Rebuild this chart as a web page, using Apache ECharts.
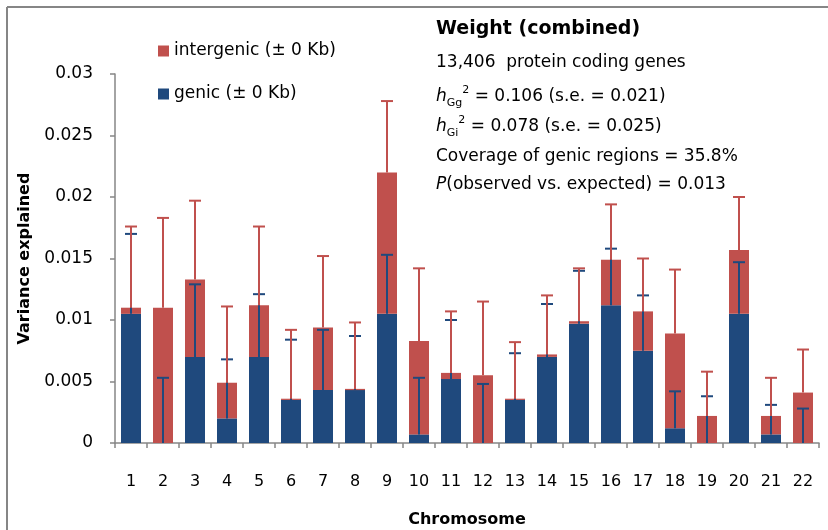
<!DOCTYPE html>
<html>
<head>
<meta charset="utf-8">
<script src="https://cdn.jsdelivr.net/npm/echarts@6/dist/echarts.min.js"></script>
<style>html,body{margin:0;padding:0;background:#fff}#c{width:828px;height:530px}</style>
</head>
<body>
<div id="c"></div>
<script>
const categories = ['1','2','3','4','5','6','7','8','9','10','11','12','13','14','15','16','17','18','19','20','21','22'];
const genic = [0.0105, 0, 0.0070, 0.0020, 0.0070, 0.0035, 0.0043, 0.0043, 0.0105, 0.0007, 0.0052, 0, 0.0035, 0.0070, 0.0097, 0.0112, 0.0075, 0.0012, 0, 0.0105, 0.0007, 0];
const combined = [0.0110, 0.0110, 0.0133, 0.0049, 0.0112, 0.0036, 0.0094, 0.0044, 0.0220, 0.0083, 0.0057, 0.0055, 0.0036, 0.0072, 0.0099, 0.0149, 0.0107, 0.0089, 0.0022, 0.0157, 0.0022, 0.0041];
const genicUpper = [0.0170, 0.0053, 0.0129, 0.0068, 0.0121, 0.0084, 0.0092, 0.0087, 0.0153, 0.0053, 0.0100, 0.0048, 0.0073, 0.0113, 0.0140, 0.0158, 0.0120, 0.0042, 0.0038, 0.0147, 0.0031, 0.0028];
const combinedUpper = [0.0176, 0.0183, 0.0197, 0.0111, 0.0176, 0.0092, 0.0152, 0.0098, 0.0278, 0.0142, 0.0107, 0.0115, 0.0082, 0.0120, 0.0142, 0.0194, 0.0150, 0.0141, 0.0058, 0.0200, 0.0053, 0.0076];
const yTicks = {min: 0, max: 0.03, interval: 0.005};

const BLUE = '#1F497D', RED = '#C0504D', GRAY = '#868686';
const FONT = '"DejaVu Sans"';

const intergenic = combined.map((v, i) => +(v - genic[i]).toFixed(5));
const genicErr = genic.map((v, i) => [i, v, genicUpper[i]]);
const interErr = combined.map((v, i) => [i, v, combinedUpper[i]]);

function errRender(color) {
  return function (params, api) {
    const b = api.coord([api.value(0), api.value(1)]);
    const t = api.coord([api.value(0), api.value(2)]);
    return {type: 'group', children: [
      {type: 'line', shape: {x1: b[0], y1: b[1], x2: t[0], y2: t[1]}, style: {stroke: color, lineWidth: 2}},
      {type: 'line', shape: {x1: t[0] - 6, y1: t[1], x2: t[0] + 6, y2: t[1]}, style: {stroke: color, lineWidth: 2}}
    ]};
  };
}

const chart = echarts.init(document.getElementById('c'), null, {renderer: 'canvas', width: 828, height: 530});
const txt = (text, y, extra) => ({type: 'text', left: 436, top: y, style: Object.assign({text: text, fill: '#000', font: '17px ' + FONT}, extra || {})});
const hRich = {
  n: {fontSize: 17, fontFamily: FONT, lineHeight: 24, verticalAlign: 'middle'},
  i: {fontSize: 17, fontFamily: FONT, fontStyle: 'italic', lineHeight: 24, verticalAlign: 'middle'},
  sub: {fontSize: 11, fontFamily: FONT, lineHeight: 12, verticalAlign: 'bottom'},
  sup: {fontSize: 11, fontFamily: FONT, lineHeight: 12, verticalAlign: 'top'}
};

chart.setOption({
  animation: false,
  backgroundColor: '#fff',
  grid: {left: 115, right: 9, top: 74, bottom: 87, containLabel: false, outerBoundsMode: 'none'},
  legend: {
    orient: 'vertical', left: 158, top: 41, padding: 0,
    itemWidth: 11, itemHeight: 11, itemGap: 23, icon: 'rect',
    data: ['intergenic (± 0 Kb)', 'genic (± 0 Kb)'],
    textStyle: {fontFamily: FONT, fontSize: 17, color: '#000', lineHeight: 20}
  },
  xAxis: {
    type: 'category', data: categories, boundaryGap: true,
    name: 'Chromosome', nameLocation: 'middle', nameGap: 69,
    nameTextStyle: {fontFamily: FONT, fontSize: 16, fontWeight: 'bold', color: '#000'},
    axisLine: {lineStyle: {color: GRAY, width: 1.5}},
    axisTick: {show: true, length: 5, lineStyle: {color: GRAY, width: 1.5}},
    axisLabel: {fontFamily: FONT, fontSize: 16, color: '#000', margin: 31}
  },
  yAxis: {
    type: 'value', min: yTicks.min, max: yTicks.max, interval: yTicks.interval,
    name: 'Variance explained', nameLocation: 'middle', nameGap: 82,
    nameTextStyle: {fontFamily: FONT, fontSize: 16, fontWeight: 'bold', color: '#000'},
    axisLine: {show: true, lineStyle: {color: GRAY, width: 1.5}},
    axisTick: {show: true, length: 5, lineStyle: {color: GRAY, width: 1.5}},
    splitLine: {show: false},
    axisLabel: {fontFamily: FONT, fontSize: 17, color: '#000', margin: 22}
  },
  graphic: [
    {type: 'line', shape: {x1: 7, y1: 7, x2: 828, y2: 7}, style: {stroke: GRAY, lineWidth: 2}},
    {type: 'line', shape: {x1: 7, y1: 7, x2: 7, y2: 530}, style: {stroke: GRAY, lineWidth: 2}},
    txt('Weight (combined)', 20, {font: 'bold 19px ' + FONT}),
    txt('13,406  protein coding genes', 54),
    {type: 'text', left: 436, top: 85, style: {text: '{i|h}{sub|Gg}{sup|2}{n| = 0.106 (s.e. = 0.021)}', rich: hRich, fill: '#000'}},
    {type: 'text', left: 436, top: 115, style: {text: '{i|h}{sub|Gi}{sup|2}{n| = 0.078 (s.e. = 0.025)}', rich: hRich, fill: '#000'}},
    txt('Coverage of genic regions = 35.8%', 148),
    {type: 'text', left: 436, top: 176, style: {text: '{i|P}{n|(observed vs. expected) = 0.013}', rich: hRich, fill: '#000'}}
  ],
  series: [
    {name: 'genic (± 0 Kb)', type: 'bar', stack: 'v', data: genic, barWidth: 20, itemStyle: {color: BLUE}},
    {name: 'intergenic (± 0 Kb)', type: 'bar', stack: 'v', data: intergenic, barWidth: 20, itemStyle: {color: RED}},
    {name: 'genicErr', type: 'custom', data: genicErr, encode: {x: 0, y: [1, 2]}, renderItem: errRender(BLUE), z: 3},
    {name: 'interErr', type: 'custom', data: interErr, encode: {x: 0, y: [1, 2]}, renderItem: errRender(RED), z: 4}
  ]
});
</script>
</body>
</html>
